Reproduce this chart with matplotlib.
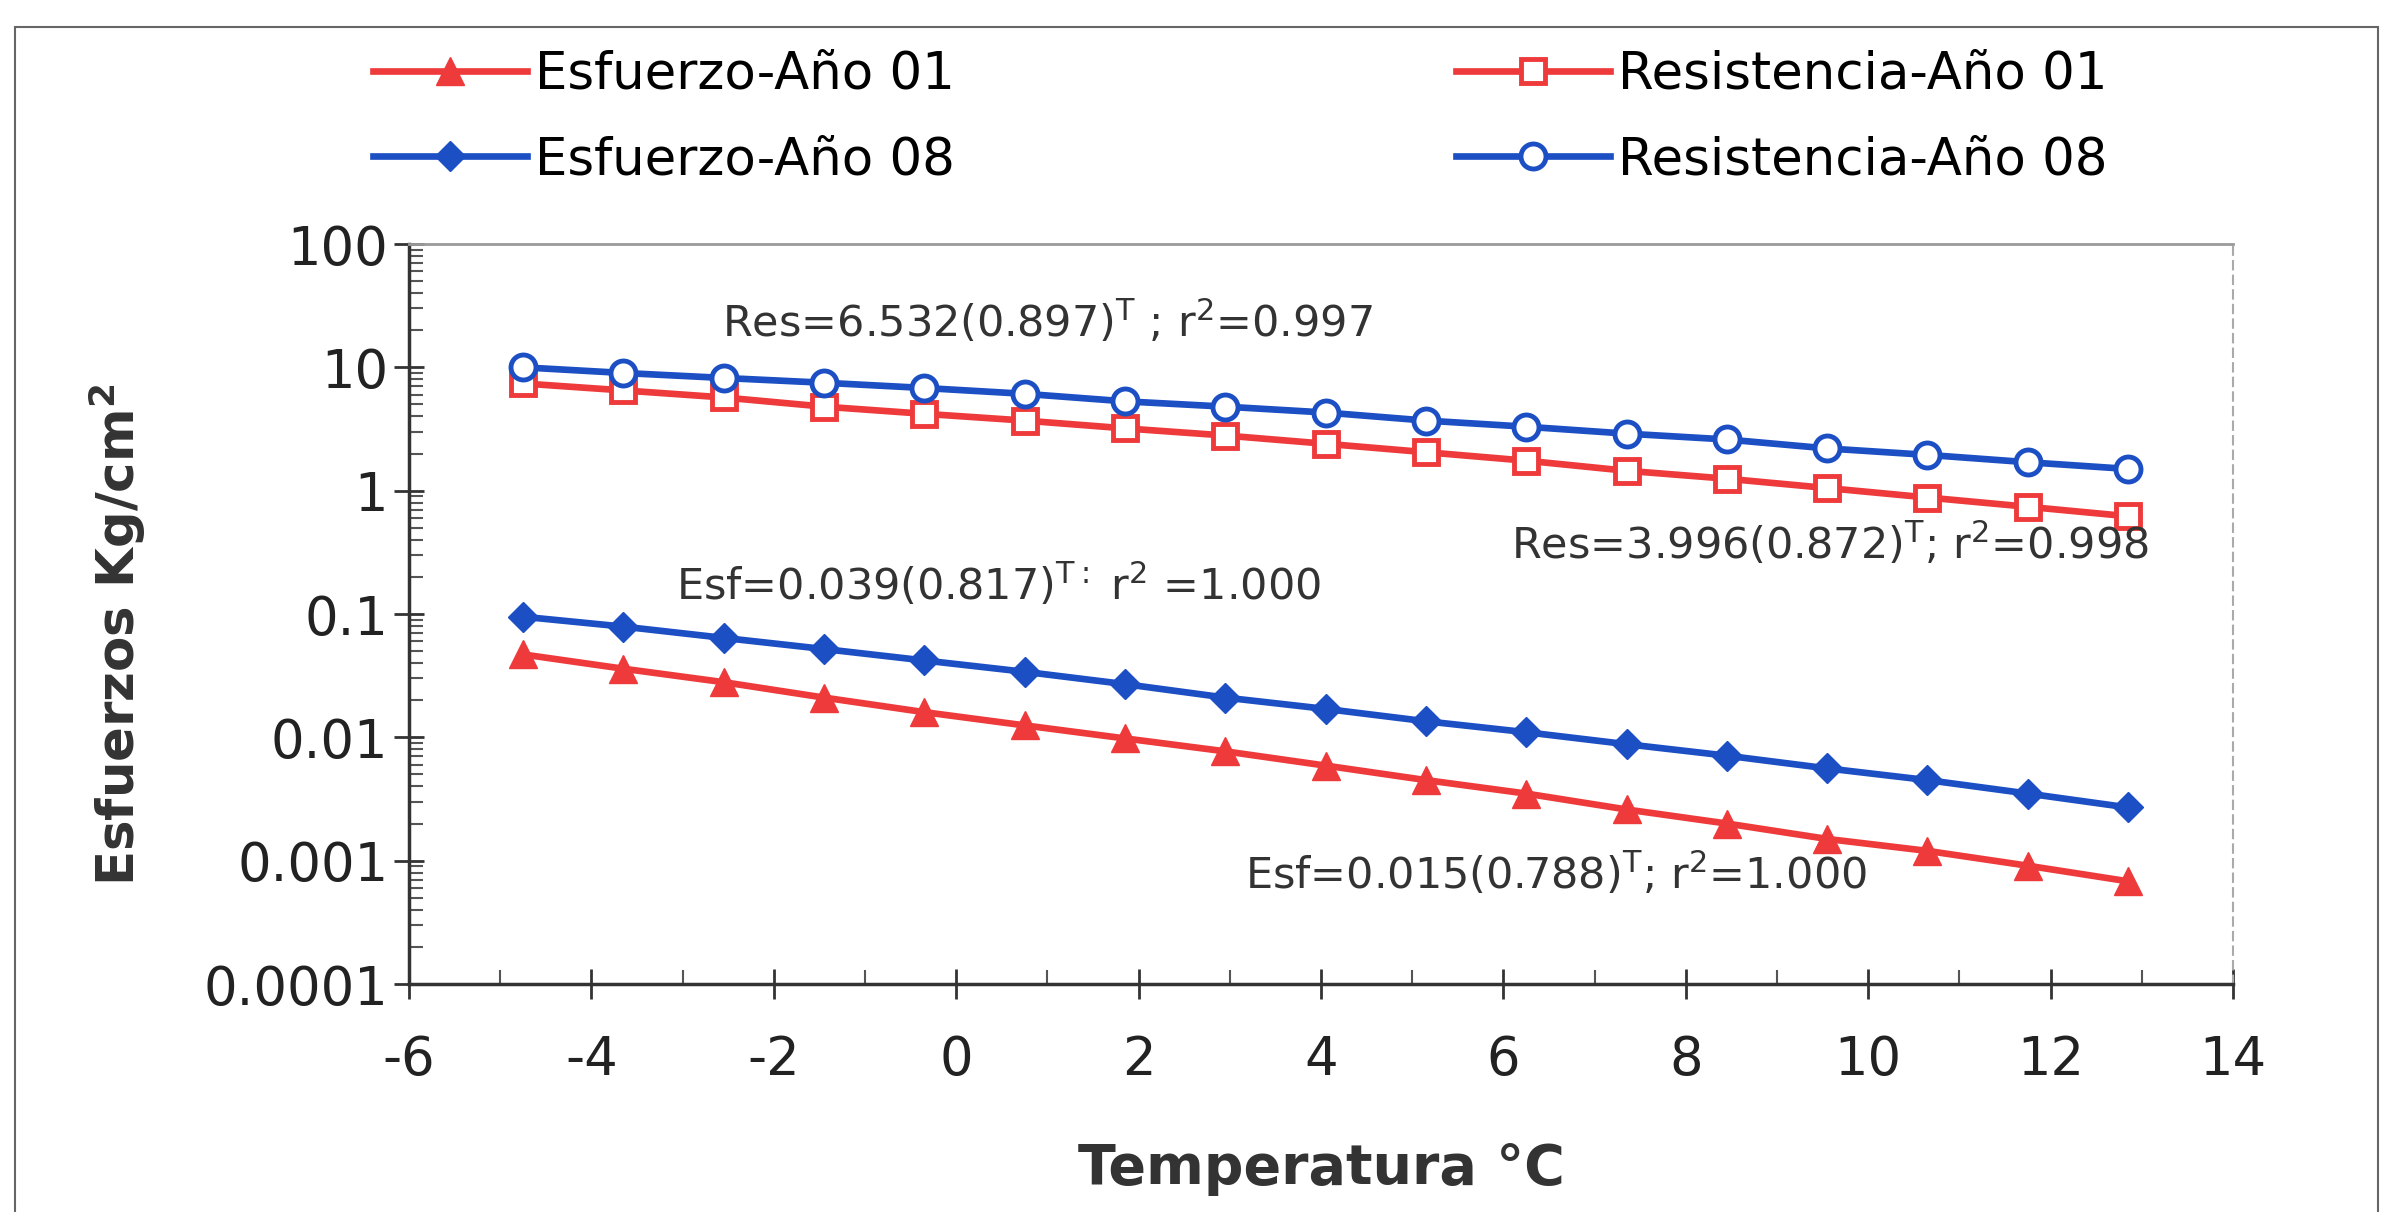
import matplotlib
matplotlib.use('Agg')
import matplotlib.pyplot as plt
from matplotlib.ticker import FixedLocator, FixedFormatter, LogLocator, MultipleLocator, NullFormatter
from matplotlib.patches import Rectangle

# ---------------- data ----------------
temperatura = [-4.75, -3.65, -2.55, -1.45, -0.35, 0.75, 1.85, 2.95, 4.05,
               5.15, 6.25, 7.35, 8.45, 9.55, 10.65, 11.75, 12.85]
esf_01 = [0.047, 0.036, 0.028, 0.021, 0.016, 0.0125, 0.0098, 0.0077, 0.0059,
          0.0045, 0.0035, 0.0026, 0.0020, 0.0015, 0.0012, 0.00091, 0.00068]
esf_08 = [0.095, 0.079, 0.064, 0.052, 0.042, 0.034, 0.027, 0.021, 0.017,
          0.0135, 0.011, 0.0088, 0.0071, 0.0056, 0.0045, 0.0035, 0.0027]
res_01 = [7.4, 6.5, 5.7, 4.8, 4.2, 3.7, 3.2, 2.8, 2.4,
          2.05, 1.75, 1.45, 1.25, 1.05, 0.88, 0.74, 0.62]
res_08 = [10.0, 9.0, 8.2, 7.5, 6.8, 6.1, 5.3, 4.8, 4.3,
          3.7, 3.3, 2.9, 2.6, 2.2, 1.95, 1.7, 1.5]
series_labels = ["Esfuerzo-Año 01", "Esfuerzo-Año 08",
                 "Resistencia-Año 01", "Resistencia-Año 08"]
x_ticks = [-6, -4, -2, 0, 2, 4, 6, 8, 10, 12, 14]
y_ticks = [0.0001, 0.001, 0.01, 0.1, 1, 10, 100]
y_tick_labels = ["0.0001", "0.001", "0.01", "0.1", "1", "10", "100"]
eq_texts = ["Res=6.532(0.897)$^{\\mathregular{T}}$ ; r$^{\\mathregular{2}}$=0.997",
            "Esf=0.039(0.817)$^{\\mathregular{T:}}$ r$^{\\mathregular{2}}$ =1.000",
            "Res=3.996(0.872)$^{\\mathregular{T}}$; r$^{\\mathregular{2}}$=0.998",
            "Esf=0.015(0.788)$^{\\mathregular{T}}$; r$^{\\mathregular{2}}$=1.000"]
eq_x = [-2.57, -3.07, 6.08, 3.17]
eq_y = [23.0, 0.171, 0.369, 0.00078]

RED = '#ee3a3a'
BLUE = '#1c4fc4'

plt.rcParams['font.family'] = ['DejaVu Sans']
plt.rcParams['mathtext.fontset'] = 'dejavusans'
plt.rcParams['axes.unicode_minus'] = False

fig = plt.figure(figsize=(23.93, 12.12), dpi=100)
ax = fig.add_axes([409 / 2393, 1 - 984 / 1212, 1824 / 2393, 740 / 1212])

lw = 4.8
h1, = ax.plot(temperatura, esf_01, color=RED, lw=lw, marker='^', ms=20,
              mfc=RED, mec=RED, label=series_labels[0], zorder=3)
h2, = ax.plot(temperatura, esf_08, color=BLUE, lw=lw, marker='D', ms=15,
              mfc=BLUE, mec=BLUE, label=series_labels[1], zorder=4)
h3, = ax.plot(temperatura, res_01, color=RED, lw=lw, marker='s', ms=17,
              mfc='white', mec=RED, mew=3.5, label=series_labels[2], zorder=3)
h4, = ax.plot(temperatura, res_08, color=BLUE, lw=lw, marker='o', ms=18,
              mfc='white', mec=BLUE, mew=3.5, label=series_labels[3], zorder=4)

ax.set_yscale('log')
ax.set_xlim(-6, 14)
ax.set_ylim(0.0001, 100)

ax.xaxis.set_major_locator(FixedLocator(x_ticks))
ax.xaxis.set_minor_locator(MultipleLocator(1))
ax.yaxis.set_major_locator(FixedLocator(y_ticks))
ax.yaxis.set_major_formatter(FixedFormatter(y_tick_labels))
ax.yaxis.set_minor_locator(LogLocator(base=10, subs=range(2, 10), numticks=20))
ax.yaxis.set_minor_formatter(NullFormatter())

ax.tick_params(axis='both', which='major', direction='inout', length=22,
               width=2, color='#333333', labelsize=38, labelcolor='#222222')
ax.tick_params(axis='y', which='major', pad=4)
ax.tick_params(axis='x', which='major', pad=25)
ax.tick_params(axis='both', which='minor', direction='in', length=10,
               width=1.5, color='#555555')

for side in ['left', 'bottom']:
    ax.spines[side].set_color('#333333')
    ax.spines[side].set_linewidth(2.5)
ax.spines['top'].set_color('#9a9a9a')
ax.spines['top'].set_linewidth(2)
ax.spines['right'].set_color('#aaaaaa')
ax.spines['right'].set_linewidth(1.5)
ax.spines['right'].set_linestyle((0, (4, 3)))

ax.set_xlabel('Temperatura °C', fontsize=40, fontweight='bold', color='#333333')
ax.xaxis.set_label_coords(0.5, -0.214)
ax.set_ylabel('Esfuerzos Kg/cm$^{\\mathregular{2}}$', fontsize=37, fontweight='bold',
              color='#333333')
ax.yaxis.set_label_coords(-0.143, 0.472)

for t, x, y in zip(eq_texts, eq_x, eq_y):
    ax.text(x, y, t, fontsize=31, color='#333333', ha='left', va='center', zorder=5)

fig.legend(handles=[h1, h2, h3, h4], loc='upper left', ncol=2,
           bbox_to_anchor=(0.156, 0.959), frameon=False, fontsize=37,
           handlelength=3.0, handletextpad=0.15, columnspacing=9.75,
           labelspacing=0.69, borderpad=0, borderaxespad=0)

fig.patches.append(Rectangle((15 / 2393, -0.05), (2378 - 15) / 2393, 1.05 - 27 / 1212,
                             transform=fig.transFigure, fill=False,
                             edgecolor='#666666', lw=1.5))

fig.savefig('out.png', dpi=100, facecolor='white')
